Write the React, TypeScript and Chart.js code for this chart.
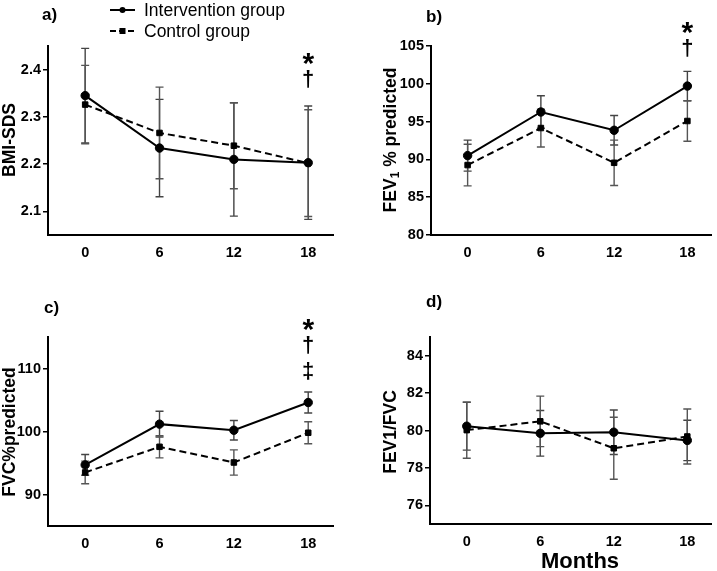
import React, { useEffect, useRef } from 'react';
import { Chart, registerables } from 'chart.js';

Chart.register(...registerables);

// ---------- data ----------
const months = [0, 6, 12, 18];
const monthTicks = [0, 6, 12, 18];

const bmiIntervention = [2.345, 2.234, 2.21, 2.203];
const bmiInterventionErr = [0.1, 0.103, 0.12, 0.12];
const bmiControl = [2.326, 2.266, 2.239, 2.202];
const bmiControlErr = [0.083, 0.097, 0.091, 0.113];
const bmiTicks = [2.1, 2.2, 2.3, 2.4];
const bmiMarks = ['*', '†'];
const bmiMarkLevels = [2.428, 2.379];

const fev1Intervention = [90.5, 96.27, 93.85, 99.7];
const fev1InterventionErr = [2.05, 2.15, 1.95, 1.94];
const fev1Control = [89.25, 94.15, 89.55, 95.08];
const fev1ControlErr = [2.75, 2.5, 3.0, 2.68];
const fev1Ticks = [80, 85, 90, 95, 100, 105];
const fev1Marks = ['*', '†'];
const fev1MarkLevels = [107.8, 104.7];

const fvcIntervention = [94.7, 101.17, 100.2, 104.6];
const fvcInterventionErr = [1.65, 2.05, 1.55, 1.67];
const fvcControl = [93.5, 97.57, 95.08, 99.8];
const fvcControlErr = [1.8, 1.75, 2.0, 1.75];
const fvcTicks = [90, 100, 110];
const fvcMarks = ['*', '†', '‡'];
const fvcMarkLevels = [117.4, 113.7, 109.46];

const ratioIntervention = [80.23, 79.85, 79.91, 79.47];
const ratioInterventionErr = [1.28, 1.22, 1.19, 1.08];
const ratioControl = [80.02, 80.49, 79.05, 79.68];
const ratioControlErr = [1.5, 1.35, 1.66, 1.47];
const ratioTicks = [76, 78, 80, 82, 84];

const legendLabels = ['Intervention group', 'Control group'];

// ---------- styling / layout ----------
const FONT = '"Liberation Sans", Arial, Helvetica, sans-serif';

type Seg = { text: string; sub?: boolean };
type PanelSpec = {
  left: number; top: number; w: number; h: number;
  pad: { top: number; right: number };
  yWidth: number; xHeight: number;
  yMin: number; yMax: number; yTicks: number[]; decimals: number;
  inter: number[]; interErr: number[]; ctrl: number[]; ctrlErr: number[];
  title: Seg[]; titleX: number; titleY: number;
  letter: string; letterX: number; letterY: number;
  marks: string[]; markLevels: number[];
  legend?: boolean; months?: boolean;
};

const panels: PanelSpec[] = [
  {
    left: 0, top: 0, w: 358, h: 285, pad: { top: 46, right: 25 }, yWidth: 48, xHeight: 50,
    yMin: 2.05, yMax: 2.45, yTicks: bmiTicks, decimals: 1,
    inter: bmiIntervention, interErr: bmiInterventionErr, ctrl: bmiControl, ctrlErr: bmiControlErr,
    title: [{ text: 'BMI-SDS' }], titleX: 10, titleY: 140,
    letter: 'a)', letterX: 42, letterY: 15, marks: bmiMarks, markLevels: bmiMarkLevels, legend: true,
  },
  {
    left: 358, top: 0, w: 359, h: 285, pad: { top: 46, right: 1 }, yWidth: 73, xHeight: 50,
    yMin: 80, yMax: 105, yTicks: fev1Ticks, decimals: 0,
    inter: fev1Intervention, interErr: fev1InterventionErr, ctrl: fev1Control, ctrlErr: fev1ControlErr,
    title: [{ text: 'FEV' }, { text: '1', sub: true }, { text: ' % predicted' }], titleX: 33, titleY: 140,
    letter: 'b)', letterX: 68, letterY: 17, marks: fev1Marks, markLevels: fev1MarkLevels,
  },
  {
    left: 0, top: 285, w: 358, h: 286, pad: { top: 52, right: 25 }, yWidth: 48, xHeight: 45,
    yMin: 85, yMax: 115, yTicks: fvcTicks, decimals: 0,
    inter: fvcIntervention, interErr: fvcInterventionErr, ctrl: fvcControl, ctrlErr: fvcControlErr,
    title: [{ text: 'FVC%predicted' }], titleX: 10, titleY: 147,
    letter: 'c)', letterX: 44, letterY: 23, marks: fvcMarks, markLevels: fvcMarkLevels,
  },
  {
    left: 358, top: 285, w: 359, h: 286, pad: { top: 52, right: 1 }, yWidth: 72, xHeight: 47,
    yMin: 75, yMax: 85, yTicks: ratioTicks, decimals: 0,
    inter: ratioIntervention, interErr: ratioInterventionErr, ctrl: ratioControl, ctrlErr: ratioControlErr,
    title: [{ text: 'FEV1/FVC' }], titleX: 33.5, titleY: 147,
    letter: 'd)', letterX: 68, letterY: 17, marks: [], markLevels: [], months: true,
  },
];

const errorBarPlugin = {
  id: 'errorBars',
  beforeDatasetsDraw(chart: any) {
    const ctx = chart.ctx;
    const xs = chart.scales.x;
    const ys = chart.scales.y;
    chart.data.datasets.forEach((ds: any) => {
      const errs: number[] = ds.errors;
      if (!errs) return;
      ctx.save();
      ctx.strokeStyle = ds.errorColor;
      ctx.lineWidth = 1.4;
      ds.data.forEach((pt: any, j: number) => {
        const x = xs.getPixelForValue(pt.x);
        const y1 = ys.getPixelForValue(pt.y + errs[j]);
        const y2 = ys.getPixelForValue(pt.y - errs[j]);
        ctx.beginPath();
        ctx.moveTo(x, y1); ctx.lineTo(x, y2);
        ctx.moveTo(x - 4, y1); ctx.lineTo(x + 4, y1);
        ctx.moveTo(x - 4, y2); ctx.lineTo(x + 4, y2);
        ctx.stroke();
      });
      ctx.restore();
    });
  },
};

function makeDecorPlugin(spec: PanelSpec) {
  return {
    id: 'decor',
    afterDraw(chart: any) {
      const ctx = chart.ctx;
      const xs = chart.scales.x;
      const ys = chart.scales.y;
      ctx.save();
      ctx.fillStyle = '#000';
      // panel letter
      ctx.font = `bold 17px ${FONT}`;
      ctx.textAlign = 'left';
      ctx.textBaseline = 'middle';
      ctx.fillText(spec.letter, spec.letterX, spec.letterY);

      // y title (rotated, with optional subscript)
      ctx.save();
      ctx.translate(spec.titleX, spec.titleY);
      ctx.rotate(-Math.PI / 2);
      const mainFont = `bold 17.5px ${FONT}`;
      const subFont = `bold 12px ${FONT}`;
      let total = 0;
      spec.title.forEach((s) => {
        ctx.font = s.sub ? subFont : mainFont;
        total += ctx.measureText(s.text).width;
      });
      let cx = -total / 2;
      ctx.textAlign = 'left';
      ctx.textBaseline = 'middle';
      spec.title.forEach((s) => {
        ctx.font = s.sub ? subFont : mainFont;
        ctx.fillText(s.text, cx, s.sub ? 5 : 0);
        cx += ctx.measureText(s.text).width;
      });
      ctx.restore();

      // significance marks at 18 months
      const mx = xs.getPixelForValue(months[months.length - 1]);
      ctx.textAlign = 'center';
      ctx.textBaseline = 'alphabetic';
      spec.marks.forEach((m, i) => {
        const y = ys.getPixelForValue(spec.markLevels[i]);
        if (m === '*') {
          ctx.font = `bold 30px ${FONT}`;
          ctx.fillText(m, mx, y + 0.57 * 30);
        } else {
          ctx.font = `bold 22px ${FONT}`;
          ctx.fillText(m, mx, y + 0.29 * 22);
        }
      });

      // legend
      if (spec.legend) {
        const rows = [10, 31];
        rows.forEach((ry, i) => {
          ctx.save();
          ctx.strokeStyle = '#000';
          ctx.lineWidth = 2;
          if (i === 1) ctx.setLineDash([6, 3]);
          ctx.beginPath();
          ctx.moveTo(110, ry); ctx.lineTo(135, ry);
          ctx.stroke();
          ctx.restore();
          ctx.beginPath();
          if (i === 0) {
            ctx.arc(122.5, ry, 3, 0, Math.PI * 2);
            ctx.fill();
          } else {
            ctx.fillRect(119.5, ry - 3, 6, 6);
          }
          ctx.font = `17.5px ${FONT}`;
          ctx.textAlign = 'left';
          ctx.textBaseline = 'middle';
          ctx.fillText(legendLabels[i], 144, ry + 1);
        });
      }

      if (spec.months) {
        ctx.font = `bold 22px ${FONT}`;
        ctx.textAlign = 'center';
        ctx.textBaseline = 'middle';
        ctx.fillText('Months', 222, 277);
      }
      ctx.restore();
    },
  };
}

function buildConfig(spec: PanelSpec): any {
  const toPts = (arr: number[]) => months.map((m, i) => ({ x: m, y: arr[i] }));
  return {
    type: 'line',
    data: {
      datasets: [
        {
          label: legendLabels[0],
          data: toPts(spec.inter),
          errors: spec.interErr,
          errorColor: '#444',
          borderColor: '#000',
          backgroundColor: '#000',
          borderWidth: 2,
          pointStyle: 'circle',
          pointRadius: 4.2,
          pointBorderWidth: 1,
          pointBackgroundColor: '#000',
          pointBorderColor: '#000',
          tension: 0,
        },
        {
          label: legendLabels[1],
          data: toPts(spec.ctrl),
          errors: spec.ctrlErr,
          errorColor: '#555',
          borderColor: '#000',
          backgroundColor: '#000',
          borderWidth: 2,
          borderDash: [7, 4],
          pointStyle: 'rect',
          pointRadius: 3.9,
          pointBorderWidth: 1,
          pointBackgroundColor: '#000',
          pointBorderColor: '#000',
          tension: 0,
        },
      ],
    },
    options: {
      animation: false,
      responsive: false,
      devicePixelRatio: 1,
      layout: { padding: { top: spec.pad.top, right: spec.pad.right, left: 0, bottom: 0 } },
      plugins: { legend: { display: false }, tooltip: { enabled: false } },
      scales: {
        x: {
          type: 'linear',
          min: -3,
          max: 20,
          afterBuildTicks: (s: any) => { s.ticks = monthTicks.map((v) => ({ value: v })); },
          afterFit: (s: any) => { s.height = spec.xHeight; },
          grid: { display: false, drawTicks: false },
          border: { display: true, color: '#000', width: 2 },
          ticks: {
            color: '#000',
            padding: 9,
            maxRotation: 0,
            font: { family: FONT, size: 14.5, weight: 'bold' },
            callback: (v: any) => String(v),
          },
        },
        y: {
          type: 'linear',
          min: spec.yMin,
          max: spec.yMax,
          afterBuildTicks: (s: any) => { s.ticks = spec.yTicks.map((v) => ({ value: v })); },
          afterFit: (s: any) => { s.width = spec.yWidth; },
          grid: { display: true, drawOnChartArea: false, drawTicks: true, tickLength: 5, color: '#000', lineWidth: 1.5 },
          border: { display: true, color: '#000', width: 2 },
          ticks: {
            color: '#000',
            padding: 2,
            font: { family: FONT, size: 14.5, weight: 'bold' },
            callback: (v: any) => Number(v).toFixed(spec.decimals),
          },
        },
      },
    },
    plugins: [errorBarPlugin, makeDecorPlugin(spec)],
  };
}

function Panel({ spec }: { spec: PanelSpec }) {
  const ref = useRef<HTMLCanvasElement>(null);
  useEffect(() => {
    const chart = new Chart(ref.current as HTMLCanvasElement, buildConfig(spec));
    return () => chart.destroy();
  }, [spec]);
  return (
    <canvas
      ref={ref}
      width={spec.w}
      height={spec.h}
      style={{ position: 'absolute', left: spec.left, top: spec.top, width: spec.w, height: spec.h }}
    />
  );
}

export default function App() {
  return (
    <div style={{ position: 'absolute', left: 0, top: 0, width: 717, height: 571, background: '#fff' }}>
      {panels.map((p) => (
        <Panel key={p.letter} spec={p} />
      ))}
    </div>
  );
}
